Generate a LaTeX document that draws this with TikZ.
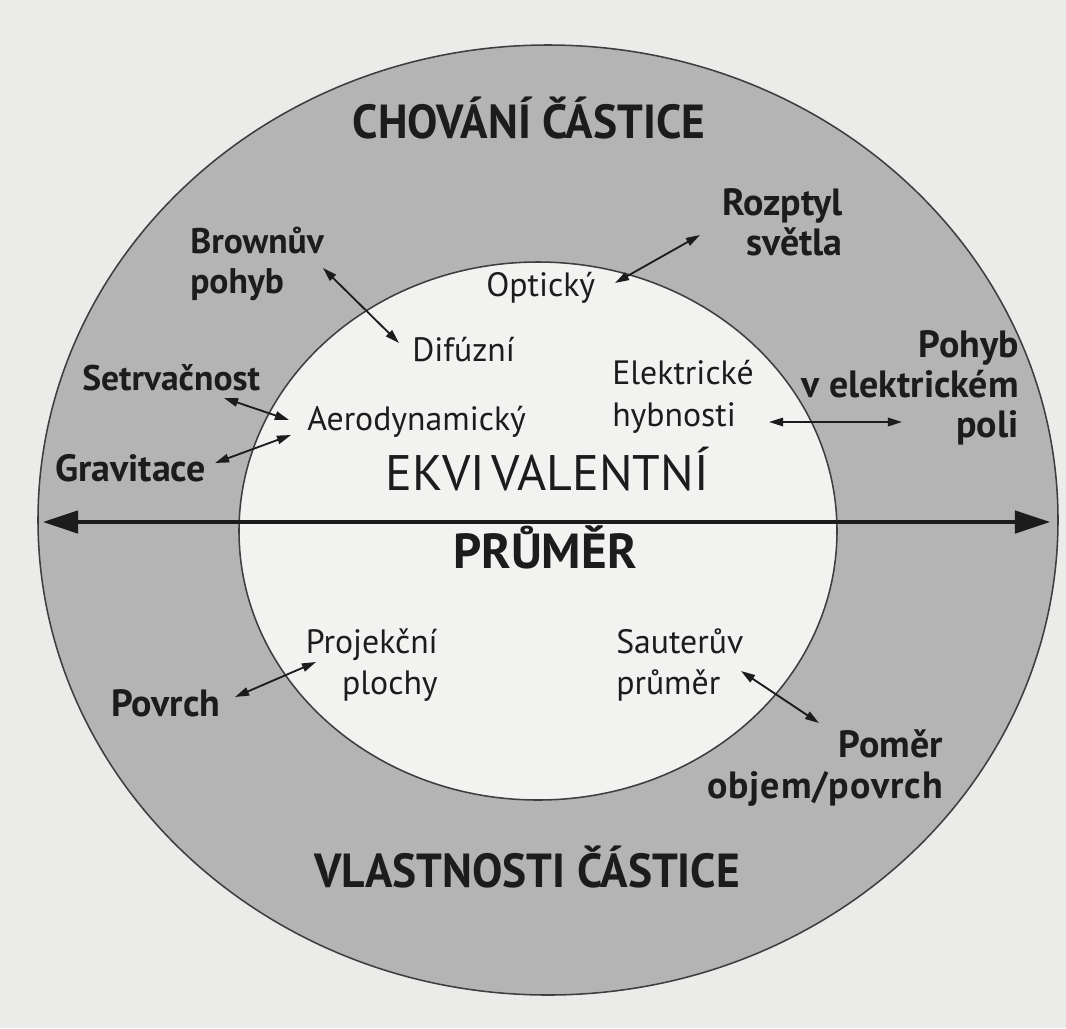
\documentclass[tikz,border=0pt]{standalone}
\usepackage{fontspec}
\setmainfont{PT Sans}
\newfontfamily\headfont{PT Sans}[FakeStretch=0.95]
\usetikzlibrary{arrows.meta}
\definecolor{paper}{RGB}{235,235,233}
\definecolor{ringgray}{RGB}{180,180,180}
\definecolor{innerwhite}{RGB}{242,242,241}
\definecolor{ink}{RGB}{28,28,28}
\tikzset{
  lbl/.style={font=\fontsize{24}{29.5}\selectfont, text=ink, inner sep=0pt},
  blbl/.style={font=\fontsize{27}{28.5}\selectfont\bfseries, text=ink, inner sep=0pt},
  sblbl/.style={font=\fontsize{25.3}{29}\selectfont\bfseries, text=ink, inner sep=0pt},
  headline/.style={font=\headfont\fontsize{34}{38}\selectfont\bfseries, text=ink, inner sep=0pt},
  dblarrow/.style={{Triangle[length=10pt,width=6pt]}-{Triangle[length=10pt,width=6pt]}, line width=1.3pt, draw=ink},
  mainarrow/.style={{Triangle[length=25pt,width=16pt]}-{Triangle[length=25pt,width=16pt]}, line width=2.4pt, draw=ink},
  ringline/.style={draw=ink!85, line width=1.1pt}
}
\begin{document}
\begin{tikzpicture}[x=0.025cm,y=-0.025cm]
\fill[paper] (0,0) rectangle (1066,1028);
\useasboundingbox (0,0) rectangle (1066,1028);
% ring and inner ellipse
\fill[ringgray, ringline] (548,520) ellipse [x radius=510, y radius=475];
\fill[innerwhite, ringline] (538,531) ellipse [x radius=299, y radius=269];

% headings
\node[headline, anchor=base] (chov) at (529,138) {CHOVÁNÍ ČÁSTICE};
\node[headline, anchor=base] (vlast) at (527,887) {VLASTNOSTI ČÁSTICE};
\node[font=\fontsize{35.5}{40}\selectfont, text=ink, inner sep=0pt, anchor=base] (ekv) at (547,490) {EKVI\kern0.12em VALENTNÍ};
\node[font=\fontsize{35}{40}\selectfont\bfseries, text=ink, inner sep=0pt, anchor=base] (prum) at (545,568) {PRŮMĚR};

% labels
\node[sblbl, align=left, anchor=west] (brown) at (190,264) {Brownův\\pohyb};
\node[blbl, align=right, anchor=east] (rozp) at (843,222) {Rozptyl\\světla};
\node[lbl, anchor=west] (opt) at (486,288) {Optický};
\node[lbl, anchor=west] (dif) at (412,350) {Difúzní};
\node[sblbl, anchor=west] (setr) at (82,378) {Setrvačnost};
\node[lbl, anchor=west] (aero) at (307,422) {Aerodynamický};
\node[blbl, anchor=west] (grav) at (55,468) {Gravitace};
\node[lbl, align=left, anchor=west] (elek) at (612,397) {Elektrické\\hybnosti};
\node[blbl, align=right, anchor=east] (pohyb) at (1019,388) {Pohyb\\v elektrickém\\poli};
\node[lbl, align=right, anchor=east] (proj) at (438,665) {Projekční\\plochy};
\node[blbl, anchor=west] (povrch) at (111,703) {Povrch};
\node[lbl, align=left, anchor=west] (saut) at (616,665) {Sauterův\\průměr};
\node[blbl, align=right, anchor=east] (pomer) at (943,768) {Poměr\\{\addfontfeature{LetterSpace=2.5}objem/povrch}};

% arrow ends
\coordinate (a1) at (323,268); \coordinate (a2) at (399,343);
\coordinate (b1) at (700,235); \coordinate (b2) at (615,283);
\coordinate (c1) at (224,398); \coordinate (c2) at (289,420);
\coordinate (d1) at (215,463); \coordinate (d2) at (291,435);
\coordinate (e1) at (769,422); \coordinate (e2) at (902,422);
\coordinate (f1) at (235,697); \coordinate (f2) at (316,662);
\coordinate (g1) at (741,671); \coordinate (g2) at (819,723);
\coordinate (ml) at (43,522); \coordinate (mr) at (1050,522);

\draw[dblarrow] (a1) -- (a2);
\draw[dblarrow] (b1) -- (b2);
\draw[dblarrow] (c1) -- (c2);
\draw[dblarrow] (d1) -- (d2);
\draw[dblarrow] (e1) -- (e2);
\draw[dblarrow] (f1) -- (f2);
\draw[dblarrow] (g1) -- (g2);
\draw[mainarrow] (ml) -- (mr);
\end{tikzpicture}
\end{document}
